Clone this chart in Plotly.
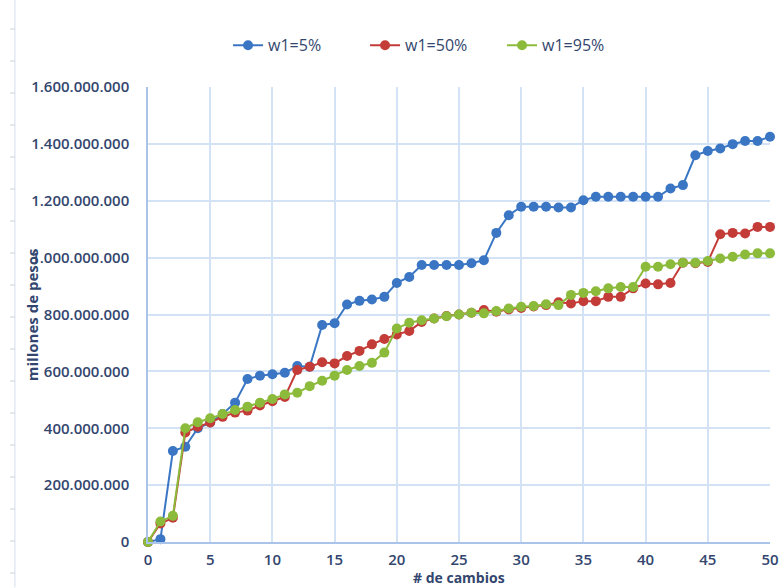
import plotly.graph_objects as go

# Número de cambios (eje x)
cambios = list(range(0, 51))

# Costo acumulado en pesos para cada ponderación w1
w1_5 = [0, 10e6, 320e6, 335e6, 400e6, 420e6, 450e6, 490e6, 573e6, 585e6,
        590e6, 595e6, 619e6, 616e6, 763e6, 769e6, 835e6, 848e6, 853e6, 862e6,
        911e6, 932e6, 974e6, 974e6, 974e6, 974e6, 980e6, 991e6, 1087e6, 1149e6,
        1179e6, 1179e6, 1179e6, 1176e6, 1176e6, 1202e6, 1214e6, 1214e6, 1214e6, 1214e6,
        1214e6, 1214e6, 1243e6, 1255e6, 1360e6, 1375e6, 1384e6, 1399e6, 1410e6, 1410e6,
        1425e6]
w1_50 = [0, 65e6, 85e6, 385e6, 405e6, 420e6, 440e6, 455e6, 462e6, 480e6,
         495e6, 510e6, 605e6, 616e6, 632e6, 628e6, 654e6, 672e6, 695e6, 714e6,
         730e6, 742e6, 774e6, 786e6, 795e6, 800e6, 806e6, 816e6, 810e6, 818e6,
         823e6, 828e6, 833e6, 843e6, 839e6, 847e6, 847e6, 862e6, 862e6, 892e6,
         909e6, 906e6, 911e6, 982e6, 980e6, 985e6, 1082e6, 1087e6, 1085e6, 1108e6,
         1108e6]
w1_95 = [0, 72e6, 92e6, 400e6, 421e6, 435e6, 450e6, 464e6, 476e6, 490e6,
         503e6, 519e6, 525e6, 548e6, 567e6, 585e6, 605e6, 619e6, 630e6, 666e6,
         751e6, 771e6, 780e6, 786e6, 794e6, 800e6, 806e6, 804e6, 812e6, 821e6,
         827e6, 830e6, 836e6, 833e6, 869e6, 876e6, 882e6, 892e6, 897e6, 897e6,
         968e6, 968e6, 977e6, 982e6, 982e6, 988e6, 997e6, 1003e6, 1011e6, 1015e6,
         1015e6]

series = [
    ("w1=5%", w1_5, "#3A76C4"),
    ("w1=50%", w1_50, "#C43C38"),
    ("w1=95%", w1_95, "#8CBB3C"),
]

y_ticks = [i * 200_000_000 for i in range(9)]
x_ticks = list(range(0, 51, 5))

text_color = "#33466E"
grid_color = "#D3E2F4"
axis_color = "#A9C4E8"
fam = "Open Sans, Liberation Sans, sans-serif"

fig = go.Figure()
for name, values, color in series:
    fig.add_trace(go.Scatter(
        x=cambios, y=values, name=name, mode="lines+markers",
        line=dict(color=color, width=2),
        marker=dict(color=color, size=10, line=dict(width=0)),
        cliponaxis=False,
    ))

fig.update_layout(
    width=784, height=588,
    margin=dict(l=148, r=14, t=87, b=46),
    paper_bgcolor="white", plot_bgcolor="white",
    separators=",.",
    font=dict(family=fam, size=14, color=text_color),
    showlegend=True,
    legend=dict(
        orientation="h", xref="container", yref="container",
        x=0.553, xanchor="center", y=0.923, yanchor="middle",
        font=dict(size=16, color=text_color, family=fam),
        traceorder="normal", entrywidth=92, entrywidthmode="pixels",
    ),
    xaxis=dict(
        range=[0, 50], tickvals=x_ticks, showgrid=True, gridcolor=grid_color,
        gridwidth=1.5, zeroline=False, showline=True, linecolor=axis_color,
        linewidth=1.5, ticks="", automargin=False, ticklabelstandoff=3,
        tickfont=dict(size=15, color=text_color, family=fam, weight=600),
    ),
    yaxis=dict(
        range=[0, 1.6e9], tickvals=y_ticks, tickformat=",d",
        showgrid=True, gridcolor=grid_color, gridwidth=1.5, zeroline=False,
        showline=True, linecolor=axis_color, linewidth=1.5, ticks="",
        automargin=False, ticklabelstandoff=14,
        tickfont=dict(size=15, color=text_color, family=fam, weight=600),
    ),
    annotations=[
        dict(text="<b>millones de pesos</b>", xref="paper", yref="paper",
             x=-0.187, xanchor="center", y=0.5, yanchor="middle",
             textangle=-90, showarrow=False,
             font=dict(size=15, color=text_color, family=fam)),
        dict(text="<b># de cambios</b>", xref="paper", yref="paper",
             x=0.5, xanchor="center", y=-0.0775, yanchor="middle",
             showarrow=False,
             font=dict(size=14, color=text_color, family=fam)),
    ],
)

# Faint vertical guide with small ticks at the left edge of the sheet
shapes = [dict(type="line", xref="paper", yref="paper", x0=-0.214, x1=-0.214,
               y0=-0.1, y1=1.25, line=dict(color="#D3DFEE", width=1))]
for k in range(18):
    yp = (542 - (29 + 32 * k)) / 455
    shapes.append(dict(type="line", xref="paper", yref="paper",
                       x0=-0.222, x1=-0.214, y0=yp, y1=yp,
                       line=dict(color="#C8D2DE", width=1)))
fig.update_layout(shapes=shapes)

fig.write_html("out.html")
